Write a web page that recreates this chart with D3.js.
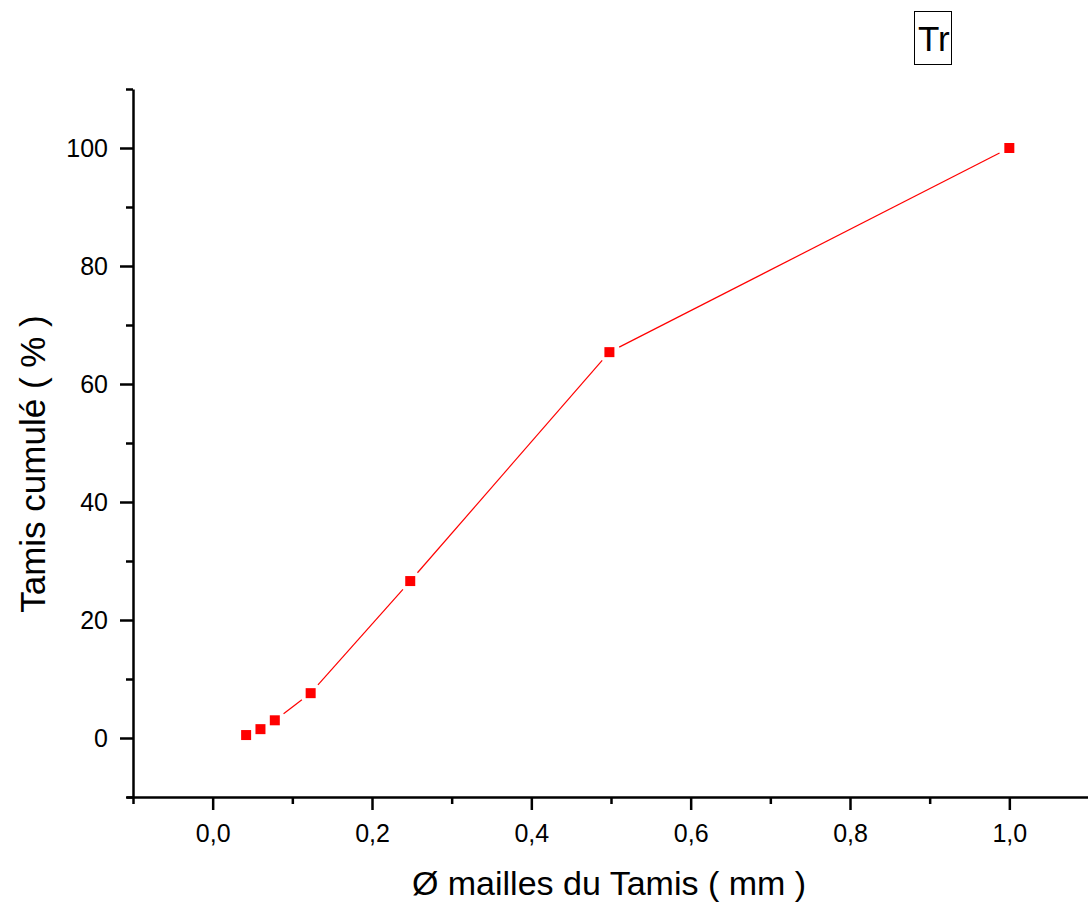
<!DOCTYPE html>
<html lang="fr">
<head>
  <meta charset="UTF-8" />
  <title>Tamis cumulé</title>
  <script src="https://d3js.org/d3.v7.min.js"></script>
  <style>
    body { margin: 0; background: #fff; }
    svg { display: block; font-family: "Liberation Sans", Arial, sans-serif; }
  </style>
</head>
<body>
  <div id="chart"></div>
  <script>
    // sieve opening (mm) and cumulative passing (%)
    const sieveSizes = [0.042, 0.06, 0.078, 0.123, 0.248, 0.498, 1.0];
    const passing = [0.5, 1.5, 3.0, 7.6, 26.6, 65.4, 100];
    const xMajorTicks = [0, 0.2, 0.4, 0.6, 0.8, 1.0];
    const xMinorTicks = [-0.1, 0.1, 0.3, 0.5, 0.7, 0.9, 1.1];
    const yMajorTicks = [0, 20, 40, 60, 80, 100];
    const yMinorTicks = [-10, 10, 30, 50, 70, 90, 110];

    const W = 1088, H = 907;
    const svg = d3.select("#chart").append("svg")
      .attr("width", W).attr("height", H);

    const x = d3.scaleLinear().domain([-0.1, 1.1]).range([133, 1089]);
    const y = d3.scaleLinear().domain([-10, 110]).range([797, 89]);
    const fmtX = d => d3.format(".1f")(d).replace(".", ",");

    // x axis
    const gx = svg.append("g").attr("transform", "translate(0,797)");
    gx.call(d3.axisBottom(x).tickValues(xMajorTicks).tickFormat(fmtX)
      .tickSize(13).tickSizeOuter(0).tickPadding(14));
    const gxm = svg.append("g").attr("transform", "translate(0,797)");
    gxm.call(d3.axisBottom(x).tickValues(xMinorTicks).tickFormat("")
      .tickSize(7).tickSizeOuter(0));
    gxm.select(".domain").remove();
    gx.select(".domain").attr("d", "M127,0.5H1088");

    // y axis
    const gy = svg.append("g").attr("transform", "translate(133,0)");
    gy.call(d3.axisLeft(y).tickValues(yMajorTicks)
      .tickSize(13).tickSizeOuter(0).tickPadding(12));
    const gym = svg.append("g").attr("transform", "translate(133,0)");
    gym.call(d3.axisLeft(y).tickValues(yMinorTicks).tickFormat("")
      .tickSize(7).tickSizeOuter(0));
    gym.select(".domain").remove();

    svg.selectAll(".domain, .tick line")
      .attr("stroke", "#000").attr("stroke-width", 2.5);
    svg.selectAll(".tick text")
      .attr("fill", "#000").style("font-size", "25px");

    // line segments with gaps around the markers
    const gap = 11;
    const pts = sieveSizes.map((d, i) => [x(d), y(passing[i])]);
    const segs = [];
    for (let i = 0; i < pts.length - 1; i++) {
      const [x0, y0] = pts[i], [x1, y1] = pts[i + 1];
      const len = Math.hypot(x1 - x0, y1 - y0);
      if (len <= 2 * gap) continue;
      const ux = (x1 - x0) / len, uy = (y1 - y0) / len;
      segs.push([x0 + ux * gap, y0 + uy * gap, x1 - ux * gap, y1 - uy * gap]);
    }
    svg.append("g").selectAll("line").data(segs).join("line")
      .attr("x1", d => d[0]).attr("y1", d => d[1])
      .attr("x2", d => d[2]).attr("y2", d => d[3])
      .attr("stroke", "#ff0000").attr("stroke-width", 1.2);

    // markers
    svg.append("g").selectAll("rect").data(sieveSizes).join("rect")
      .attr("x", (d) => x(d) - 5)
      .attr("y", (d, i) => y(passing[i]) - 5)
      .attr("width", 10).attr("height", 10)
      .attr("fill", "#ff0000");

    // axis titles
    svg.append("text")
      .attr("x", 609).attr("y", 895)
      .attr("text-anchor", "middle")
      .style("font-size", "34px")
      .text("Ø mailles du Tamis ( mm )");

    svg.append("text")
      .attr("transform", "translate(45,464) rotate(-90)")
      .attr("text-anchor", "middle")
      .style("font-size", "35px")
      .text("Tamis cumulé ( % )");

    // little "Tr" box top right
    svg.append("rect")
      .attr("x", 914.5).attr("y", 11.5).attr("width", 37).attr("height", 53)
      .attr("fill", "none").attr("stroke", "#000").attr("stroke-width", 1);
    svg.append("text")
      .attr("x", 918).attr("y", 51)
      .style("font-size", "35px")
      .text("Tr");
  </script>
</body>
</html>
